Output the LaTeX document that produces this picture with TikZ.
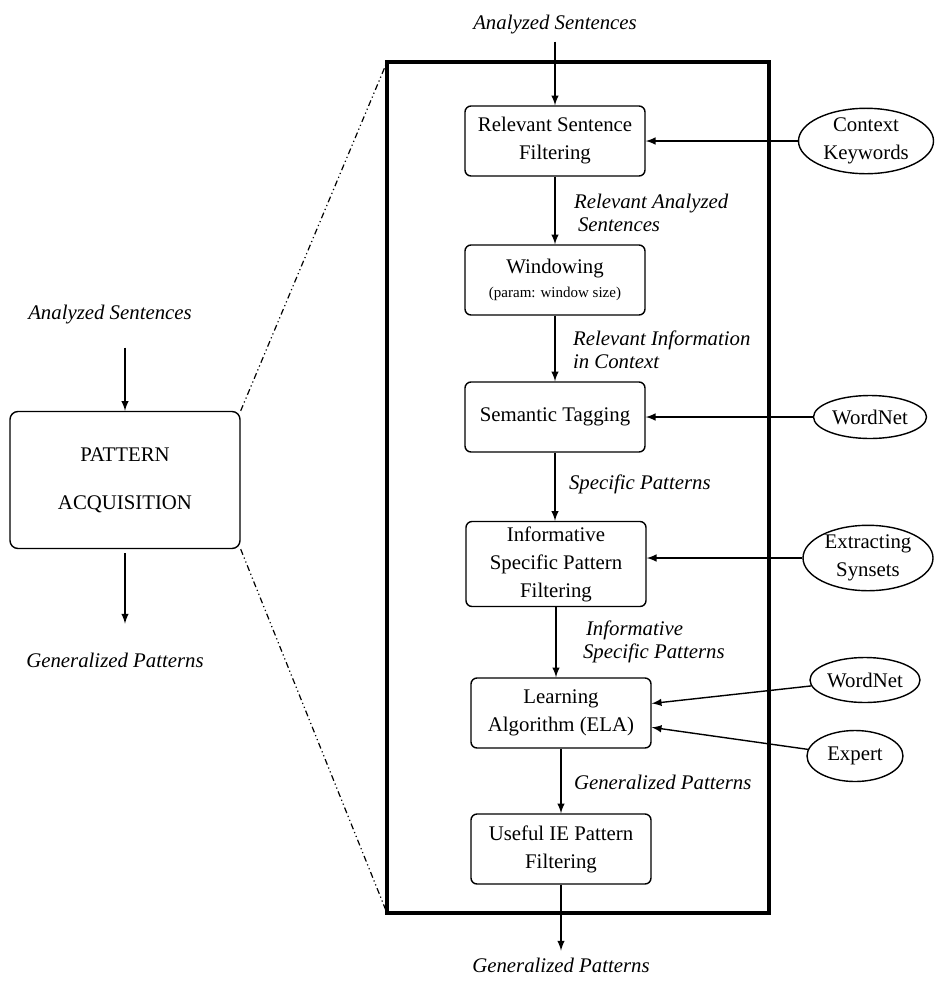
\documentclass[tikz,border=0pt]{standalone}
\usepackage{fontspec}
\setmainfont{Liberation Serif}
\usetikzlibrary{shapes.geometric}

\begin{document}
\begin{tikzpicture}[
  x=0.5pt, y=-0.5pt,
  every node/.style={font=\fontsize{10.4}{14}\selectfont},
  stage/.style={draw, rounded corners=3pt, align=center, minimum width=90pt, minimum height=35pt, inner sep=2pt, line width=0.7pt},
  source/.style={draw, ellipse, align=center, inner sep=0pt, line width=0.7pt},
  flow/.style={font=\fontsize{10.4}{11.5}\selectfont\itshape, align=left, anchor=west},
  arr/.style={draw, -latex, line width=0.7pt},
  zoomline/.style={line width=0.6pt, dash pattern=on 3pt off 1.5pt on 0.6pt off 1.5pt on 0.6pt off 1.5pt}
]
\useasboundingbox (0,0) rectangle (934,981);

\node[font=\fontsize{10.4}{14}\selectfont\itshape] (leftin) at (110,315) {Analyzed Sentences};
\node[stage, rounded corners=4pt, minimum width=115pt, minimum height=68.5pt] (pa) at (125,480) {PATTERN\\[10pt]ACQUISITION};
\node[font=\fontsize{10.4}{14}\selectfont\itshape] (leftout) at (115,660) {Generalized Patterns};
\draw[arr, shorten <=8pt] (leftin.south -| pa) -- (pa);
\draw[arr, shorten <=2pt, shorten >=11pt] (pa) -- (leftout.north -| pa);

\coordinate (frameNW) at (387,62);
\coordinate (frameSW) at (387,913);
\coordinate (frameSE) at (769,913);
\draw[line width=2pt] (frameNW) rectangle (frameSE);
\draw[zoomline] (pa.north east) -- (frameNW);
\draw[zoomline] (pa.south east) -- (frameSW);

\node[font=\fontsize{10.4}{14}\selectfont\itshape] (top) at (555,25) {Analyzed Sentences};
\node[stage] (filt) at (555,141) {Relevant Sentence\\Filtering};
\node[stage] (win) at (555,280) {Windowing\\[-2pt]{\fontsize{7.5}{9}\selectfont (param: window size)}};
\node[stage] (tag) at (555,417) {Semantic Tagging};
\node[stage, minimum height=42.5pt] (infilt) at (556,564) {Informative\\Specific Pattern\\Filtering};
\node[stage] (ela) at (561,713) {Learning\\Algorithm (ELA)};
\node[stage] (useful) at (561,849) {Useful IE Pattern\\Filtering};
\node[font=\fontsize{10.4}{14}\selectfont\itshape] (bottom) at (561,965) {Generalized Patterns};

\node[source, minimum width=67.5pt, minimum height=32.5pt] (kw) at (866,141) {Context\\Keywords};
\node[source, minimum width=56.5pt, minimum height=21.5pt] (wn1) at (870,417) {WordNet};
\node[source, minimum width=65pt, minimum height=31pt] (syn) at (868,558) {Extracting\\Synsets};
\node[source, minimum width=55pt, minimum height=22.5pt] (wn2) at (865,680) {WordNet};
\node[source, minimum width=48pt, minimum height=25.5pt] (expert) at (855,756) {Expert};

\node[flow] (relsent) at (567,213) {Relevant Analyzed\\\hspace*{2pt}Sentences};
\node[flow] (relinfo) at (566,350) {Relevant Information\\in Context};
\node[flow] (specpat) at (562,484) {Specific Patterns};
\node[flow] (infpat) at (576,642) {\hspace*{1.5pt}Informative\\Specific Patterns};
\node[flow] (genpat) at (567,782) {Generalized Patterns};

\draw[arr] (top) -- (filt);
\draw[arr] (filt) -- (win);
\draw[arr] (win) -- (tag);
\draw[arr] (tag.south) -- (tag.south |- infilt.north);
\draw[arr] (infilt.south) -- (infilt.south |- ela.north);
\draw[arr] (ela) -- (useful);
\draw[arr] (useful) -- (bottom);

\draw[arr] (kw) -- (filt);
\draw[arr] (wn1) -- (tag);
\draw[arr] (syn) -- (syn -| infilt.east);
\draw[arr] (wn2) -- (ela.6);
\draw[arr] (expert) -- (ela.-9);
\end{tikzpicture}
\end{document}
